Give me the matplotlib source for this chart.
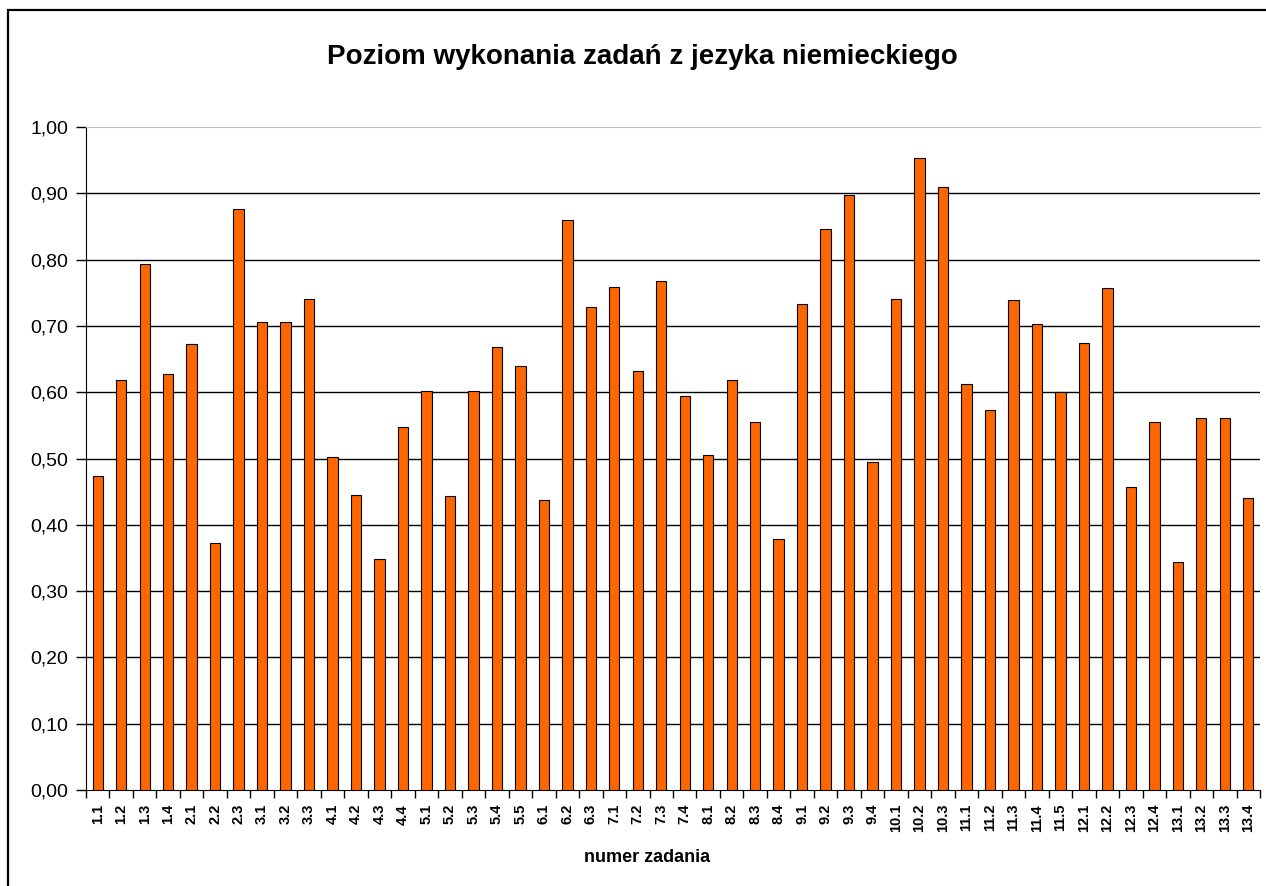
import matplotlib.pyplot as plt
import numpy as np
from matplotlib.patches import Rectangle

categories = ['1.1', '1.2', '1.3', '1.4', '2.1', '2.2', '2.3', '3.1', '3.2', '3.3',
              '4.1', '4.2', '4.3', '4.4', '5.1', '5.2', '5.3', '5.4', '5.5', '6.1',
              '6.2', '6.3', '7.1', '7.2', '7.3', '7.4', '8.1', '8.2', '8.3', '8.4',
              '9.1', '9.2', '9.3', '9.4', '10.1', '10.2', '10.3', '11.1', '11.2', '11.3',
              '11.4', '11.5', '12.1', '12.2', '12.3', '12.4', '13.1', '13.2', '13.3', '13.4']
values = [0.474, 0.618, 0.794, 0.628, 0.672, 0.373, 0.876, 0.706, 0.706, 0.741,
          0.502, 0.445, 0.348, 0.547, 0.602, 0.443, 0.602, 0.668, 0.640, 0.437,
          0.860, 0.729, 0.759, 0.632, 0.767, 0.594, 0.506, 0.618, 0.555, 0.379,
          0.733, 0.846, 0.897, 0.494, 0.741, 0.953, 0.909, 0.612, 0.573, 0.739,
          0.703, 0.600, 0.674, 0.757, 0.457, 0.555, 0.344, 0.561, 0.561, 0.441]
yticks = [0.0, 0.1, 0.2, 0.3, 0.4, 0.5, 0.6, 0.7, 0.8, 0.9, 1.0]

plt.rcParams['font.family'] = ['Liberation Sans', 'DejaVu Sans']

fig = plt.figure(figsize=(12.66, 8.86), dpi=100)
# outer chart frame (only left and top edges visible)
fig.patches.append(Rectangle((8 / 1266, -0.1), 1.2, 1.1 - 10 / 886, transform=fig.transFigure,
                             fill=False, edgecolor='black', linewidth=1.6))
ax = fig.add_axes([86 / 1266, 96 / 886, 1174 / 1266, 663 / 886])

x = np.arange(len(categories))
ax.bar(x, values, width=0.44, color='#FF6600', edgecolor='black', linewidth=0.8, zorder=3)

for v in yticks[1:-1]:
    ax.axhline(v, color='black', linewidth=1, zorder=1)

ax.set_xlim(-0.5, len(categories) - 0.5)
ax.set_ylim(0, 1)
ax.set_yticks(yticks)
ax.set_yticklabels([f'{v:.2f}'.replace('.', ',') for v in yticks], fontsize=14)
ax.tick_params(axis='y', direction='out', length=7, width=1, pad=6)

ax.set_xticks(x)
ax.set_xticklabels(categories, rotation=90, fontsize=10.5, fontweight='bold')
ax.set_xticks(np.arange(len(categories) + 1) - 0.5, minor=True)
ax.tick_params(axis='x', which='major', length=0, pad=10)
ax.tick_params(axis='x', which='minor', direction='out', length=6, width=1)

ax.spines['right'].set_visible(False)
ax.spines['top'].set_color('#c0c0c0')

fig.text(642 / 1266, 1 - 57 / 886, 'Poziom wykonania zadań z jezyka niemieckiego',
         ha='center', va='center', fontsize=20, fontweight='bold')
fig.text(647 / 1266, 1 - 858 / 886, 'numer zadania',
         ha='center', va='center', fontsize=13, fontweight='bold')

fig.savefig('out.png', dpi=100)
